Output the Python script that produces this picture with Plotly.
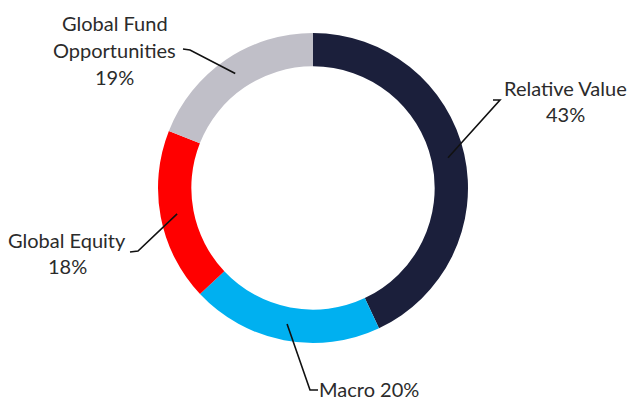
import math
import plotly.graph_objects as go

# Data
categories = ["Relative Value", "Macro", "Global Equity", "Global Fund Opportunities"]
values = [43, 20, 18, 19]
colors = ["#1b1f3b", "#00b0f0", "#ff0000", "#c0bfc8"]
label_lines = [
    ["Relative Value", "43%"],
    ["Macro 20%"],
    ["Global Equity", "18%"],
    ["Global Fund", "Opportunities", "19%"],
]

W, H = 628, 400
CX, CY, R = 313, 188, 155
HOLE = 0.785

def px(x, y):
    return x / W, 1 - y / H

fig = go.Figure()
fig.add_trace(go.Pie(
    labels=categories, values=values, sort=False, direction="clockwise",
    rotation=0, hole=HOLE, textinfo="none",
    marker=dict(colors=colors, line=dict(width=0)),
    domain=dict(x=[(CX - R) / W, (CX + R) / W], y=[1 - (CY + R) / H, 1 - (CY - R) / H]),
    showlegend=False,
))

label_pos = [
    dict(x=565, ys=[88, 114], elbow=[(500, 100), (493, 100)]),
    dict(x=369, ys=[389], elbow=[(310, 390), (318, 390)]),
    dict(x=67, ys=[240, 266], elbow=[(138, 251), (130, 252)]),
    dict(x=115, ys=[23, 50, 77], elbow=[(190, 50), (183, 49)]),
]

total = sum(values)
cum = 0
rmid = R * (1 + HOLE) / 2
shapes = []
annotations = []
for v, lines, lp in zip(values, label_lines, label_pos):
    mid = (cum + v / 2) / total * 2 * math.pi
    cum += v
    ax = CX + rmid * math.sin(mid)
    ay = CY - rmid * math.cos(mid)
    pts = [(ax, ay)] + lp["elbow"]
    path = "M " + " L ".join(f"{px(x, y)[0]:.5f},{px(x, y)[1]:.5f}" for x, y in pts)
    shapes.append(dict(type="path", xref="paper", yref="paper", path=path,
                       line=dict(color="#111111", width=1.6)))
    for t, y in zip(lines, lp["ys"]):
        xx, yy = px(lp["x"], y)
        annotations.append(dict(text=t, x=xx, y=yy, xref="paper", yref="paper",
                                showarrow=False, xanchor="center", yanchor="middle",
                                font=dict(family="Lato, Open Sans, sans-serif", size=20, color="#2b2b2b")))

fig.update_layout(
    width=W, height=H, margin=dict(l=0, r=0, t=0, b=0),
    paper_bgcolor="white", plot_bgcolor="white",
    shapes=shapes, annotations=annotations,
)
fig.write_html("out.html", config={"displayModeBar": False},
               post_script="document.body.style.margin='0';")
